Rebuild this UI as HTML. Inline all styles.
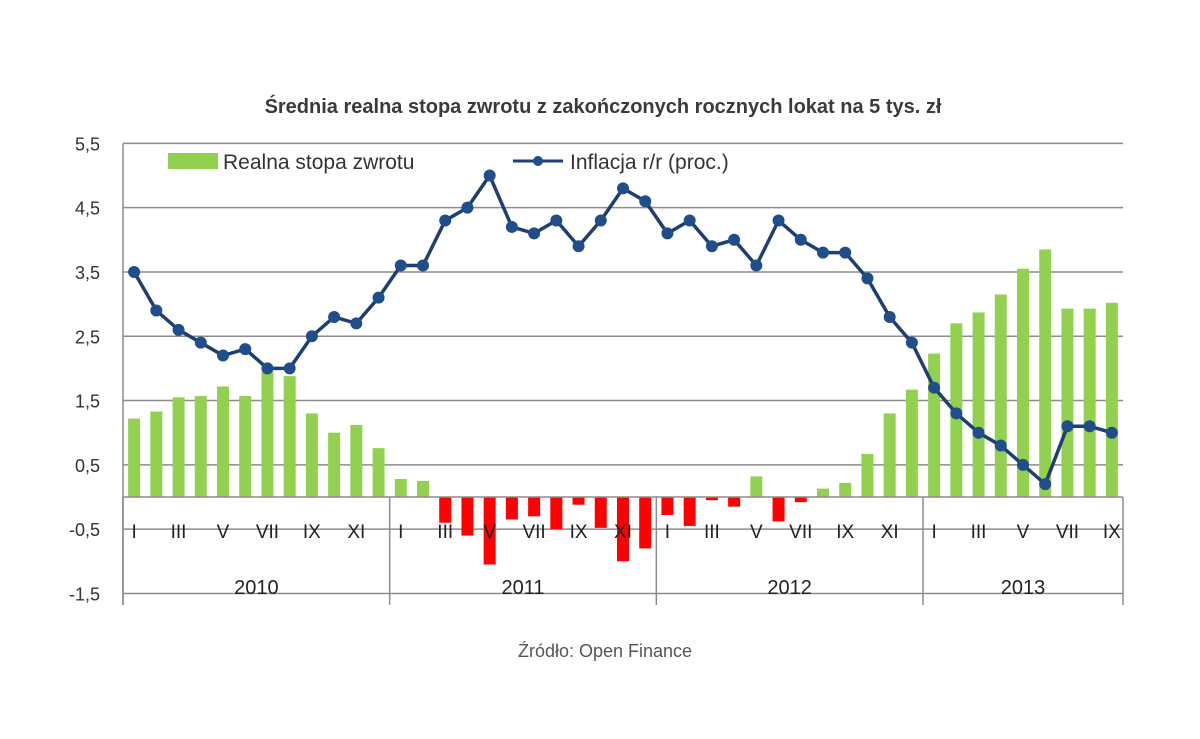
<!DOCTYPE html>
<html><head><meta charset="utf-8"><style>
body{margin:0;background:#fff;width:1200px;height:734px;overflow:hidden}
svg text{font-family:"Liberation Sans",Arial,sans-serif}
</style></head><body>
<svg id="chart" width="1200" height="734" xmlns="http://www.w3.org/2000/svg">
<text x="603" y="113" text-anchor="middle" font-size="20" font-weight="bold" fill="#3a3a3a">Średnia realna stopa zwrotu z zakończonych rocznych lokat na 5 tys. zł</text>
<g id="grid"></g>
<g id="bars"></g>
<g id="line"></g>
<g id="axes"></g>
<g>
<rect x="168" y="153" width="50" height="16" fill="#92d050"/>
<text x="223" y="169" font-size="21" fill="#333">Realna stopa zwrotu</text>
<line x1="513" y1="161" x2="563" y2="161" stroke="#1f3f72" stroke-width="3"/>
<circle cx="538" cy="161" r="5" fill="#1f4e8a"/>
<text x="570" y="169" font-size="21" fill="#333">Inflacja r/r (proc.)</text>
</g>
<text x="605" y="657" text-anchor="middle" font-size="18" fill="#555">Źródło: Open Finance</text>
</svg>
<script>
const years = ["2010","2011","2012","2013"];
const monthLabels = ["I","","III","","V","","VII","","IX","","XI",""];
const yTicks = [5.5,4.5,3.5,2.5,1.5,0.5,-0.5,-1.5];
const yTickLabels = ["5,5","4,5","3,5","2,5","1,5","0,5","-0,5","-1,5"];
const inflation = [3.5,2.9,2.6,2.4,2.2,2.3,2.0,2.0,2.5,2.8,2.7,3.1,
 3.6,3.6,4.3,4.5,5.0,4.2,4.1,4.3,3.9,4.3,4.8,4.6,
 4.1,4.3,3.9,4.0,3.6,4.3,4.0,3.8,3.8,3.4,2.8,2.4,
 1.7,1.3,1.0,0.8,0.5,0.2,1.1,1.1,1.0];
const realRate = [1.22,1.33,1.55,1.57,1.72,1.57,1.95,1.88,1.3,1.0,1.12,0.76,
 0.28,0.25,-0.4,-0.6,-1.05,-0.35,-0.3,-0.5,-0.12,-0.48,-1.0,-0.8,
 -0.28,-0.45,-0.05,-0.15,0.32,-0.38,-0.08,0.13,0.22,0.67,1.3,1.67,
 2.23,2.7,2.87,3.15,3.55,3.85,2.93,2.93,3.02];

const NS="http://www.w3.org/2000/svg";
const X0=123,X1=1123,N=realRate.length,slot=(X1-X0)/N;
const y=v=>497-v*64.3;
const xc=i=>X0+slot*(i+0.5);
function mk(tag,attrs,parent){const e=document.createElementNS(NS,tag);for(const k in attrs)e.setAttribute(k,attrs[k]);document.getElementById(parent).appendChild(e);return e;}

yTicks.forEach((t,i)=>{
 const l=mk('line',{x1:X0,x2:X1,y1:y(t),y2:y(t),stroke:'#8c8c8c','stroke-width':1.5},'grid');
 
 
 const tx=mk('text',{x:100,y:y(t)+7,'text-anchor':'end','font-size':18,fill:'#333'},'grid');
 tx.textContent=yTickLabels[i];
 
 
});
realRate.forEach((v,i)=>{
 const r=mk('rect',{x:xc(i)-6,width:12,y:Math.min(y(v),y(0)),height:Math.abs(y(v)-y(0)),fill:v>=0?'#92d050':'#ff0000'},'bars');
 
 
});
const pl=mk('polyline',{points:inflation.map((v,i)=>xc(i)+','+y(v)).join(' '),fill:'none',stroke:'#1f3f72','stroke-width':3.5},'line');


inflation.forEach((v,i)=>{
 const c=mk('circle',{cx:xc(i),cy:y(v),r:6,fill:'#1f4e8a'},'line');
 
 
});
// axes
const ax=mk('line',{x1:X0,x2:X1,y1:y(0),y2:y(0),stroke:'#8c8c8c','stroke-width':1.5},'axes');


const va=mk('line',{x1:X0,x2:X0,y1:y(5.5),y2:605,stroke:'#8c8c8c','stroke-width':1.5},'axes');


for(let k=0;k<=years.length;k++){
 const xx=Math.min(X0+slot*12*k,X1);
 const s=mk('line',{x1:xx,x2:xx,y1:y(0),y2:605,stroke:'#8c8c8c','stroke-width':1.5},'axes');
 
 
}
for(let i=0;i<N;i++){
 const lab=monthLabels[i%12];
 if(!lab)continue;
 const t=mk('text',{x:xc(i),y:538,'text-anchor':'middle','font-size':19,fill:'#222'},'axes');
 t.textContent=lab;
 
 
}
years.forEach((yr,k)=>{
 const a=X0+slot*12*k,b=Math.min(X0+slot*12*(k+1),X1);
 const t=mk('text',{x:(a+b)/2,y:594,'text-anchor':'middle','font-size':20,fill:'#222'},'axes');
 t.textContent=yr;
 
 
});
</script>
</body></html>
